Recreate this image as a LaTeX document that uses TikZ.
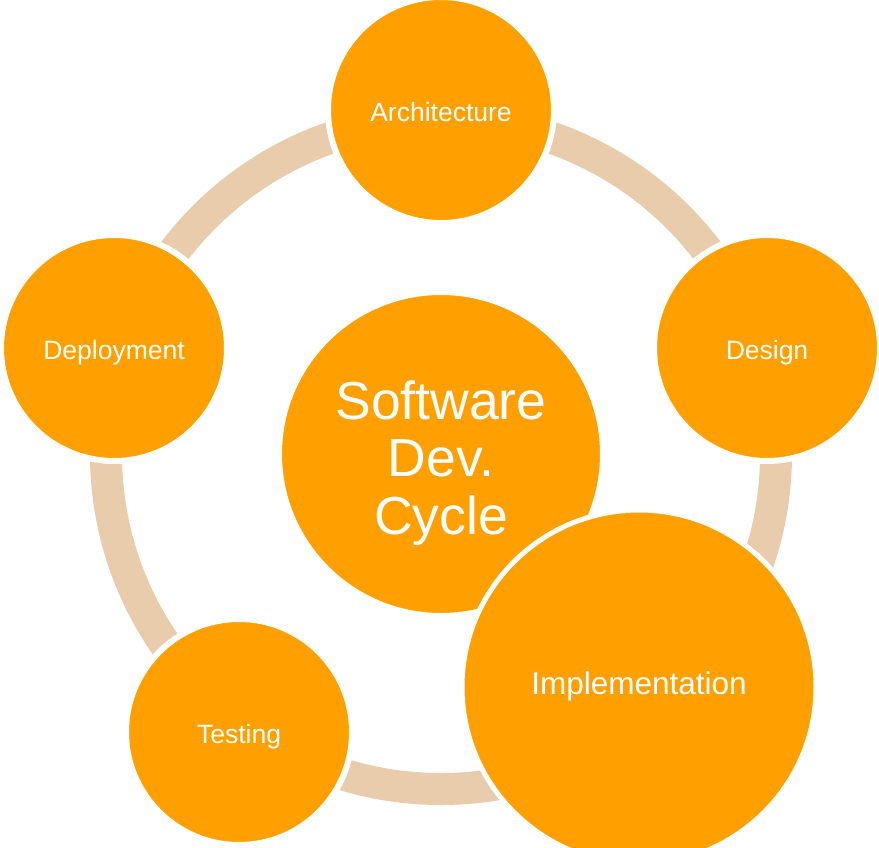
\documentclass[tikz,border=0pt]{standalone}
\usepackage{fontspec}
\setmainfont{Liberation Sans}
\definecolor{stageorange}{RGB}{255,160,0}
\definecolor{ringbeige}{RGB}{232,204,172}

\begin{document}
\begin{tikzpicture}[x=1pt, y=-1pt,
  every node/.style = {shape=circle, fill=stageorange, draw=white,
    text=white, align=center, inner sep=0pt},
  stage/.style = {minimum size=226pt, line width=6pt,
    text height=22pt, text depth=0pt,
    font=\fontsize{26.5}{30}\selectfont},
  ring/.style = {draw=ringbeige, line width=32pt}]
  \useasboundingbox (0,0) rectangle (879,847);
  \coordinate (hub) at (441,454);
  \draw[ring] (hub) circle[radius=335pt];
  \node[minimum size=320pt, line width=2pt] (sdc) at (hub) {};
  \node[fill=none, draw=none, font=\fontsize{53.5}{57.5}\selectfont]
    (sdctext) at (441,463) {Software\\Dev.\\Cycle};
  \node[stage] (arch) at (441,110) {Architecture};
  \node[stage] (design) at (767,348) {Design};
  \node[stage] (deploy) at (114,348) {Deployment};
  \node[stage] (test) at (239,732) {Testing};
  \node[stage, minimum size=354pt, line width=5pt,
    text height=15pt, font=\fontsize{31.5}{36}\selectfont] (impl)
    at (639,687) {Implementation};
\end{tikzpicture}
\end{document}
